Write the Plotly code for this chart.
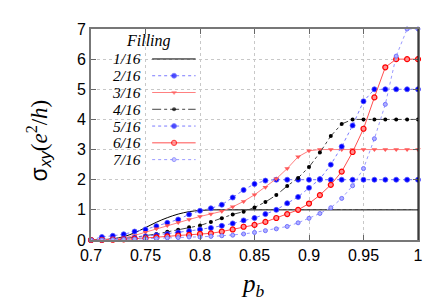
import plotly.graph_objects as go

# ---- data ----
p_b = [0.70, 0.71, 0.72, 0.73, 0.74, 0.75, 0.76, 0.77, 0.78, 0.79, 0.80,
       0.81, 0.82, 0.83, 0.84, 0.85, 0.86, 0.87, 0.88, 0.89, 0.90,
       0.91, 0.92, 0.93, 0.94, 0.95, 0.96, 0.97, 0.98, 0.99, 1.00]

f1_16 = [0.00, 0.01, 0.04, 0.11, 0.24, 0.41, 0.59, 0.74, 0.86, 0.94, 0.98,
         1.00, 1.00, 1.00, 1.00, 1.00, 1.00, 1.00, 1.00, 1.00, 1.00,
         1.00, 1.00, 1.00, 1.00, 1.00, 1.00, 1.00, 1.00, 1.00, 1.00]
f2_16 = [0.00, 0.10, 0.14, 0.19, 0.28, 0.35, 0.46, 0.57, 0.68, 0.85, 0.97,
         1.05, 1.17, 1.41, 1.66, 1.86, 1.97, 2.00, 2.00, 2.00, 2.00,
         2.00, 2.00, 2.00, 2.00, 2.00, 2.00, 2.00, 2.00, 2.00, 2.00]
f3_16 = [0.00, 0.01, 0.03, 0.07, 0.15, 0.26, 0.37, 0.48, 0.58, 0.68, 0.78,
         0.86, 0.95, 1.10, 1.28, 1.50, 1.75, 2.03, 2.37, 2.76, 2.96,
         3.00, 3.00, 3.00, 3.00, 3.00, 3.00, 3.00, 3.00, 3.00, 3.00]
f4_16 = [0.00, 0.01, 0.02, 0.05, 0.09, 0.14, 0.20, 0.27, 0.34, 0.42, 0.48,
         0.60, 0.72, 0.85, 0.94, 1.08, 1.26, 1.49, 1.79, 2.06, 2.42,
         2.90, 3.45, 3.85, 4.00, 4.00, 4.00, 4.00, 4.00, 4.00, 4.00]
f5_16 = [0.00, 0.01, 0.03, 0.05, 0.08, 0.12, 0.16, 0.20, 0.25, 0.30, 0.35,
         0.40, 0.47, 0.55, 0.65, 0.73, 0.86, 1.00, 1.22, 1.43, 1.73,
         2.02, 2.50, 3.10, 3.80, 4.60, 5.00, 5.00, 5.00, 5.00, 5.00]
f6_16 = [0.00, 0.00, 0.01, 0.02, 0.04, 0.06, 0.09, 0.12, 0.15, 0.17, 0.20,
         0.22, 0.28, 0.35, 0.44, 0.50, 0.60, 0.73, 0.86, 1.00, 1.21,
         1.49, 1.83, 2.27, 2.92, 3.69, 4.73, 5.73, 6.00, 6.00, 6.00]
f7_16 = [0.00, 0.00, 0.01, 0.02, 0.03, 0.04, 0.05, 0.07, 0.08, 0.10, 0.10,
         0.12, 0.14, 0.16, 0.20, 0.25, 0.31, 0.37, 0.45, 0.57, 0.72,
         0.88, 1.07, 1.38, 1.80, 2.37, 3.36, 4.50, 6.10, 7.00, 7.00]

fill_labels = ["1/16", "2/16", "3/16", "4/16", "5/16", "6/16", "7/16"]
series = [f1_16, f2_16, f3_16, f4_16, f5_16, f6_16, f7_16]

x_ticks = [0.7, 0.75, 0.8, 0.85, 0.9, 0.95, 1.0]
x_ticktext = ["0.7", "0.75", "0.8", "0.85", "0.9", "0.95", "1"]
y_ticks = [0, 1, 2, 3, 4, 5, 6, 7]

# ---- styles ----
styles = [
    dict(line=dict(color="black", width=1, dash="solid", shape="spline"), mode="lines", marker=None),
    dict(line=dict(color="#7a7aff", width=1, dash="dot"), mode="lines+markers",
         marker=dict(symbol="circle", size=5, color="#0000ff", line=dict(color="#5050ff", width=0.8))),
    dict(line=dict(color="#ff8080", width=1, dash="solid"), mode="lines+markers",
         marker=dict(symbol="triangle-down", size=5, color="#ff5a5a", line=dict(width=0))),
    dict(line=dict(color="#444444", width=1, dash="dashdot"), mode="lines+markers",
         marker=dict(symbol="circle", size=4, color="black", line=dict(width=0))),
    dict(line=dict(color="#7a7aff", width=1, dash="dot"), mode="lines+markers",
         marker=dict(symbol="circle", size=5, color="#0000ff", line=dict(color="#5050ff", width=0.8))),
    dict(line=dict(color="#ff5050", width=1, dash="solid"), mode="lines+markers",
         marker=dict(symbol="circle", size=5, color="#ff9090", line=dict(color="#ff0000", width=1.2))),
    dict(line=dict(color="#9a9aff", width=1, dash="dot"), mode="lines+markers",
         marker=dict(symbol="circle", size=4, color="#b0b0ff", line=dict(color="#7070ff", width=1))),
]

fig = go.Figure()
for lab, ys, st in zip(fill_labels, series, styles):
    kw = dict(x=p_b, y=ys, mode=st["mode"], line=st["line"], name=lab,
              showlegend=False, cliponaxis=False)
    if st["marker"] is not None:
        kw["marker"] = st["marker"]
    fig.add_trace(go.Scatter(**kw))

# ---- gnuplot-style legend (text left, sample right) on an overlay axis ----
leg_x0, leg_xm, leg_x1 = 0.187, 0.254, 0.32
leg_text_x = 0.158
leg_y_top = 0.858
leg_dy = 0.0795
serif = "Times New Roman, Liberation Serif, DejaVu Serif, serif"
sans = "Arial, Liberation Sans, Helvetica, sans-serif"
for i, (lab, st) in enumerate(zip(fill_labels, styles)):
    yy = leg_y_top - i * leg_dy
    line = dict(st["line"])
    line.pop("shape", None)
    kw = dict(x=[leg_x0, leg_xm, leg_x1], y=[yy, yy, yy], mode=st["mode"], line=line,
              xaxis="x2", yaxis="y2", showlegend=False, cliponaxis=False, hoverinfo="skip")
    if st["marker"] is not None:
        m = dict(st["marker"])
        m["size"] = [0, m["size"], 0]
        kw["marker"] = m
    fig.add_trace(go.Scatter(**kw))
    fig.add_annotation(x=leg_text_x, y=yy, xref="paper", yref="paper", text=f"<i>{lab}</i>",
                       showarrow=False, xanchor="right", yanchor="middle",
                       font=dict(family=serif, size=15.5, color="black"))

fig.add_annotation(x=0.176, y=0.942, xref="paper", yref="paper", text="<i>Filling</i>",
                   showarrow=False, xanchor="center", yanchor="middle",
                   font=dict(family=serif, size=16, color="black"))

# axis titles
fig.add_annotation(x=-0.16, y=0.47, xref="paper", yref="paper", textangle=-90,
                   text="σ<sub><i>xy</i></sub><span style=\"font-family:'Times New Roman','Liberation Serif',serif\">(<i>e</i><sup>2</sup>/<i>h</i>)</span>",
                   showarrow=False, xanchor="center", yanchor="middle",
                   font=dict(family=sans, size=23, color="black"))
fig.add_annotation(x=0.495, y=-0.215, xref="paper", yref="paper",
                   text="<i>p</i><sub><i>b</i></sub>",
                   showarrow=False, xanchor="center", yanchor="middle",
                   font=dict(family=serif, size=25, color="black"))

axis_common = dict(showgrid=True, gridcolor="#c8c8c8", griddash="dot", gridwidth=1,
                   showline=True, linecolor="#777777", linewidth=1.6, mirror="ticks",
                   ticks="inside", ticklen=5, tickcolor="#666666", zeroline=False,
                   tickfont=dict(family=sans, size=16, color="black"))

fig.update_layout(
    width=436, height=305,
    margin=dict(l=83, r=26, t=21, b=73),
    paper_bgcolor="white", plot_bgcolor="white",
    xaxis=dict(range=[0.7, 1.0], tickvals=x_ticks, ticktext=x_ticktext, **axis_common),
    yaxis=dict(range=[0, 7], tickvals=y_ticks, **axis_common),
    xaxis2=dict(range=[0, 1], overlaying="x", anchor="y2", visible=False),
    yaxis2=dict(range=[0, 1], overlaying="y", anchor="x2", visible=False),
    shapes=[dict(type="line", xref="paper", yref="paper", x0=1, x1=1, y0=0, y1=1,
                 line=dict(color="black", width=1))],
)

fig.write_html("out.html")
